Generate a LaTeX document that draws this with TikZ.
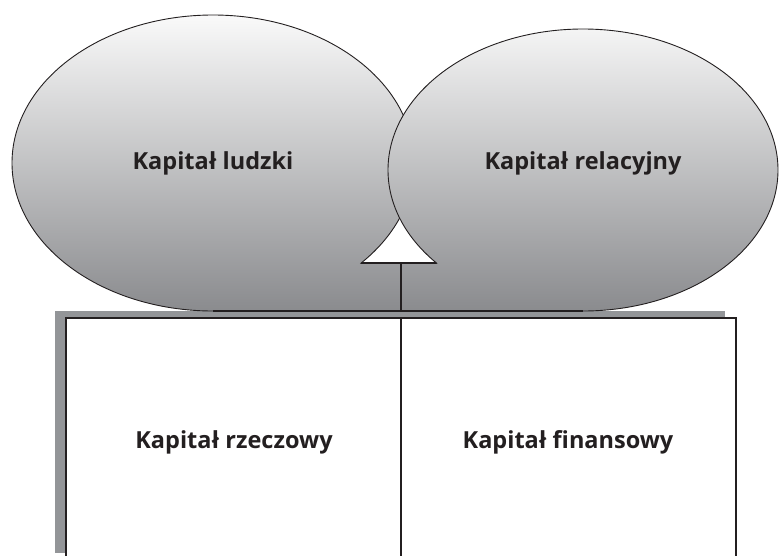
\documentclass[tikz,border=0pt]{standalone}
\usepackage{fontspec}
\setmainfont{Open Sans}
\definecolor{kline}{RGB}{35,31,32}
\definecolor{ktop}{RGB}{250,250,250}
\definecolor{kbot}{RGB}{138,139,142}
\definecolor{kshadow}{RGB}{147,149,152}
\tikzset{
  label/.style={font=\fontsize{23.5}{26}\selectfont\bfseries, text=kline},
  blob/.style={top color=ktop, bottom color=kbot},
}

\begin{document}
\begin{tikzpicture}[x=1pt,y=-1pt,line width=1.1pt]
  \useasboundingbox (0,0) rectangle (779,555);
  \coordinate (L) at (213,163);
  \coordinate (R) at (583,170);
  \coordinate (T) at (401,263);
  \coordinate (S) at (401,311);
  \coordinate (U) at (401,318);
  \coordinate (V) at (401,560);
  % shadow and boxes
  \fill[kshadow] (55,311) rectangle (725,553);
  \draw[kline,fill=white] (66,318) rectangle (736,560);
  \draw[kline] (U) -- (V);
  % bubble fill
  \begin{scope}
    \clip (L) ellipse [x radius=201, y radius=148];
    \shade[blob] (0,14) rectangle (779,311);
  \end{scope}
  \begin{scope}
    \clip (R) ellipse [x radius=195, y radius=141];
    \shade[blob] (0,14) rectangle (779,311);
  \end{scope}
  \begin{scope}
    \clip (213,263) rectangle (583,311);
    \shade[blob] (0,14) rectangle (779,311);
  \end{scope}
  % bubble outlines
  \begin{scope}[even odd rule]
    \clip (-50,-50) rectangle (830,610) (213,263) rectangle (583,311);
    \begin{scope}
      \clip (-50,-50) rectangle (830,610) (R) ellipse [x radius=195, y radius=141];
      \draw[kline,line width=0.9pt] (L) ellipse [x radius=201, y radius=148];
    \end{scope}
    \draw[kline,line width=0.9pt] (R) ellipse [x radius=195, y radius=141];
  \end{scope}
  \begin{scope}[even odd rule]
    \clip (-50,-50) rectangle (830,610) (L) ellipse [x radius=201, y radius=148];
    \clip (-50,-50) rectangle (830,610) (R) ellipse [x radius=195, y radius=141];
    \draw[kline] (300,263) -- (500,263);
  \end{scope}
  \draw[kline] (T) -- (S);
  \draw[kline] (213,311) -- (583,311);
  % labels
  \node[label] (human) at (213,163) {Kapitał ludzki};
  \node[label] (relation) at (583,163) {Kapitał relacyjny};
  \node[label] (physical) at (234,442) {Kapitał rzeczowy};
  \node[label] (finance) at (568,442) {Kapitał finansowy};
\end{tikzpicture}
\end{document}
